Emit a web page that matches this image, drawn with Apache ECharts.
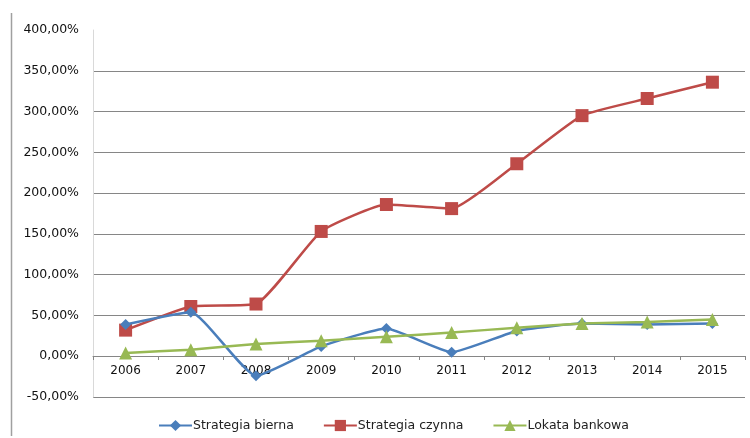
<!DOCTYPE html>
<html><head><meta charset="utf-8">
<script src="https://cdn.jsdelivr.net/npm/echarts@6/dist/echarts.min.js"></script>
<style>html,body{margin:0;padding:0;background:#fff}#c{width:750px;height:438px}</style>
</head><body><div id="c"></div>
<script>
const years = ['2006','2007','2008','2009','2010','2011','2012','2013','2014','2015'];
const bierna = [39, 54, -24, 12, 34, 5, 31, 40, 39, 40];
const czynna = [32, 61, 64, 153, 186, 181, 236, 295, 316, 336];
const lokata = [4, 8, 15, 19, 24, 29, 35, 40, 42, 45];
const names = ['Strategia bierna', 'Strategia czynna', 'Lokata bankowa'];

const font = 'DejaVu Sans';
const chart = echarts.init(document.getElementById('c'));
const gridColors = ['#868686','#868686','#868686','#868686','#868686','#868686','#868686','#868686','#868686','rgba(0,0,0,0)'];
chart.setOption({
  animation: false,
  textStyle: {fontFamily: font},
  graphic: [{type: 'line', shape: {x1: 11.5, y1: 13, x2: 11.5, y2: 436}, style: {stroke: '#a0a0a0', lineWidth: 1.5}}],
  grid: {left: 93, right: 5, top: 30, bottom: 41},
  legend: {
    bottom: 1, left: 153, itemWidth: 33, itemHeight: 14, itemGap: 29,
    textStyle: {fontFamily: font, fontSize: 12.5, color: '#222', padding: [0,0,0,-4]},
    data: names
  },
  xAxis: {
    type: 'category', data: years, boundaryGap: true, offset: -41,
    axisLine: {onZero: false, lineStyle: {color: '#868686'}},
    axisTick: {show: true, length: 4, lineStyle: {color: '#868686'}},
    axisLabel: {fontFamily: font, fontSize: 12, color: '#111', margin: 9},
    splitLine: {show: false}
  },
  yAxis: {
    type: 'value', min: -50, max: 400, interval: 50,
    axisLine: {show: true, lineStyle: {color: '#d9d9d9'}},
    axisTick: {show: false},
    axisLabel: {fontFamily: font, fontSize: 12.5, color: '#111', margin: 14,
      formatter: v => v.toFixed(2).replace('.', ',') + '%'},
    splitLine: {show: true, lineStyle: {color: gridColors, width: 1}}
  },
  series: [
    {name: names[0], type: 'line', data: bierna, smooth: 0.15, symbol: 'diamond', symbolSize: 11,
      itemStyle: {color: '#4a7ebb'}, lineStyle: {width: 2.5, color: '#4a7ebb'}, z: 3},
    {name: names[1], type: 'line', data: czynna, smooth: 0.15, symbol: 'rect', symbolSize: 13,
      itemStyle: {color: '#be4b48'}, lineStyle: {width: 2.5, color: '#be4b48'}, z: 2},
    {name: names[2], type: 'line', data: lokata, smooth: 0.15, symbol: 'triangle', symbolSize: 13,
      itemStyle: {color: '#98b954'}, lineStyle: {width: 2.5, color: '#98b954'}, z: 4}
  ]
});
</script></body></html>
